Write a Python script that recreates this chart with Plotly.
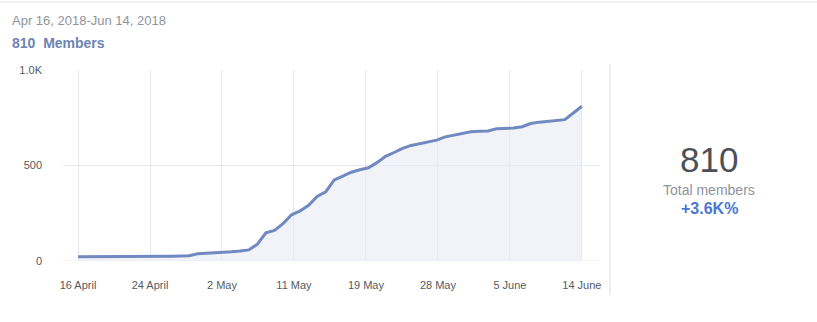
import plotly.graph_objects as go

# Daily member counts, Apr 16 2018 .. Jun 14 2018 (60 days)
members = [22, 22, 22, 22, 22, 22, 22, 22, 22, 23,
           24, 25, 26, 28, 38, 40, 42, 45, 48, 52,
           58, 88, 148, 160, 195, 242, 262, 292, 338, 362,
           425, 445, 465, 478, 488, 515, 548, 568, 590, 605,
           615, 625, 633, 650, 660, 670, 677, 679, 681, 692,
           694, 696, 703, 720, 727, 732, 736, 740, 775, 810]
days = list(range(len(members)))

x_tick_labels = ["16 April", "24 April", "2 May", "11 May", "19 May", "28 May", "5 June", "14 June"]
n_ticks = len(x_tick_labels)
x_tick_vals = [i * (len(members) - 1) / (n_ticks - 1) for i in range(n_ticks)]
y_tick_vals = [0, 500, 1000]
y_tick_labels = ["0", "500", "1.0K"]

title_text = "Apr 16, 2018-Jun 14, 2018"
subtitle_text = "810  Members"
total_text = "810"
total_label = "Total members"
growth_text = "+3.6K%"

FONT = "Liberation Sans, Arial, sans-serif"

fig = go.Figure()
fig.add_trace(go.Scatter(
    x=days, y=members, mode="lines",
    line=dict(color="#7089c0", width=3),
    fill="tozeroy", fillcolor="rgba(232,235,245,0.6)",
    hoverinfo="skip",
))

fig.update_layout(
    width=817, height=322,
    margin=dict(l=63, r=217, t=70, b=61),
    paper_bgcolor="white", plot_bgcolor="white",
    showlegend=False,
    font=dict(family=FONT, size=11, color="#555a62"),
    xaxis=dict(
        range=[-1.76, 61.12],
        tickvals=x_tick_vals, ticktext=x_tick_labels,
        showgrid=True, gridcolor="#e6e8ec", gridwidth=1,
        zeroline=False, showline=False,
        ticks="", ticklabelstandoff=16,
        tickfont=dict(size=11, color="#555a62"),
        fixedrange=True,
    ),
    yaxis=dict(
        range=[0, 1000],
        tickvals=y_tick_vals, ticktext=y_tick_labels,
        showgrid=False, zeroline=False, showline=False,
        ticks="", ticklabelstandoff=20,
        tickfont=dict(size=11, color="#555a62"),
        fixedrange=True,
    ),
)

# horizontal gridlines (0 and 500 only)
for v in [0, 500]:
    fig.add_shape(type="line", xref="paper", yref="y", x0=0, x1=1, y0=v, y1=v,
                  line=dict(color="#e6e8ec", width=1), layer="below")

# top border line
fig.add_shape(type="line", xref="paper", yref="paper",
              x0=-63/537, x1=(817-63)/537, y0=1 + 68/191, y1=1 + 68/191,
              line=dict(color="#e5e5e5", width=1))
# right divider
fig.add_shape(type="line", xref="paper", yref="paper",
              x0=(610-63)/537, x1=(610-63)/537, y0=(261-295)/191, y1=(261-64)/191,
              line=dict(color="#dedfe2", width=1))

def px_x(px):
    return (px - 63) / 537

def px_y(py):
    return (261 - py) / 191

fig.add_annotation(text=title_text, xref="paper", yref="paper", x=px_x(10), y=px_y(20),
                   xanchor="left", yanchor="middle", showarrow=False,
                   font=dict(family=FONT, size=13, color="#90949c"))
fig.add_annotation(text="<b>" + subtitle_text.replace("  ", "&nbsp; ") + "</b>", xref="paper", yref="paper",
                   x=px_x(10), y=px_y(43), xanchor="left", yanchor="middle", showarrow=False,
                   font=dict(family=FONT, size=14, color="#6d84b4"))
fig.add_annotation(text=total_text, xref="paper", yref="paper", x=px_x(709), y=px_y(159),
                   xanchor="center", yanchor="middle", showarrow=False,
                   font=dict(family=FONT, size=35, color="#4b4f56"))
fig.add_annotation(text=total_label, xref="paper", yref="paper", x=px_x(709), y=px_y(190),
                   xanchor="center", yanchor="middle", showarrow=False,
                   font=dict(family=FONT, size=14, color="#90949c"))
fig.add_annotation(text="<b>" + growth_text + "</b>", xref="paper", yref="paper", x=px_x(709), y=px_y(208),
                   xanchor="center", yanchor="middle", showarrow=False,
                   font=dict(family=FONT, size=16, color="#4a76d4"))

fig.write_html("out.html")
